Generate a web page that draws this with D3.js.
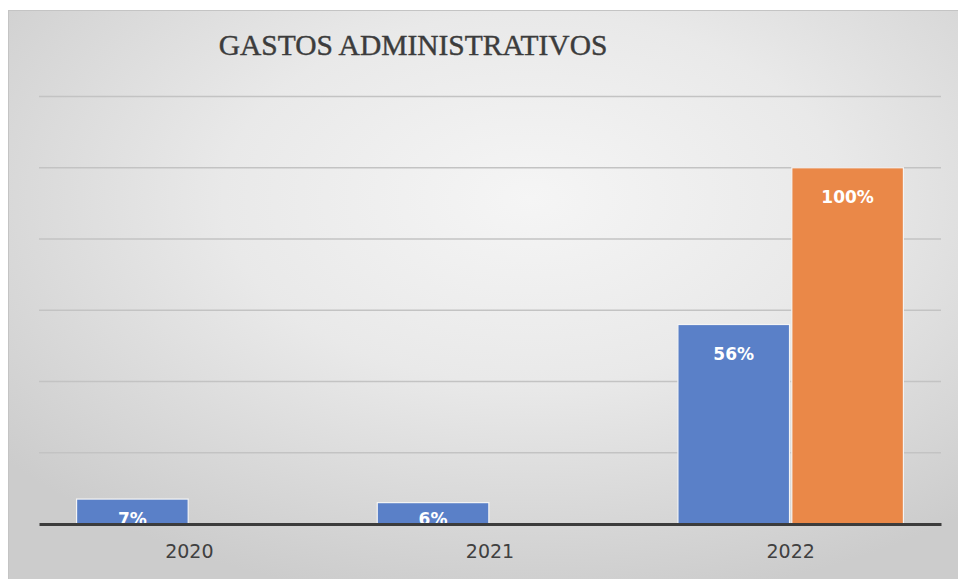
<!DOCTYPE html>
<html>
<head>
<meta charset="utf-8">
<script src="https://cdn.jsdelivr.net/npm/d3@7"></script>
<style>
  html, body { margin: 0; padding: 0; background: #ffffff; }
  svg { display: block; }
</style>
</head>
<body>
<svg id="chart" width="958" height="579"></svg>
<script>
const title = "GASTOS ADMINISTRATIVOS";
const categories = ["2020", "2021", "2022"];
const seriesNames = ["s1", "s2"];
const series1 = [7, 6, 56];
const series2 = [0, 0, 100];
const series1Labels = ["7%", "6%", "56%"];
const series2Labels = ["", "", "100%"];
const yTicks = [0, 20, 40, 60, 80, 100, 120];

const svg = d3.select("#chart");
const W = 958, H = 579;

const defs = svg.append("defs");
const grad = defs.append("radialGradient")
  .attr("id", "bg")
  .attr("cx", "0.55").attr("cy", "0.33").attr("r", "0.72");
grad.append("stop").attr("offset", "0").attr("stop-color", "#f5f5f5");
grad.append("stop").attr("offset", "0.45").attr("stop-color", "#e9e9e9");
grad.append("stop").attr("offset", "1").attr("stop-color", "#cccccc");

svg.append("rect")
  .attr("x", 8.5).attr("y", 10.5).attr("width", W - 8).attr("height", H - 10)
  .attr("fill", "url(#bg)")
  .attr("stroke", "#c4c4c4").attr("stroke-width", 1);

const left = 39, right = 941, y0 = 524, yTop = 96.5;

const x = d3.scaleBand().domain(categories).range([left, right]).padding(0);
const xi = d3.scaleBand().domain(seriesNames).range([0, x.bandwidth()])
  .paddingInner(0.02).paddingOuter(0.33);
const y = d3.scaleLinear().domain([0, 120]).range([y0, yTop]);

// gridlines
svg.append("g").selectAll("line")
  .data(yTicks.filter(t => t > 0))
  .join("line")
  .attr("x1", left).attr("x2", right)
  .attr("y1", d => y(d)).attr("y2", d => y(d))
  .attr("stroke", "#c3c3c3").attr("stroke-width", 1.5);

const rows = categories.map((c, i) => ({
  cat: c,
  bars: [
    { key: "s1", v: series1[i], label: series1Labels[i], color: "#5a80c8" },
    { key: "s2", v: series2[i], label: series2Labels[i], color: "#ea8848" }
  ]
}));

const groups = svg.append("g").selectAll("g")
  .data(rows).join("g")
  .attr("transform", d => `translate(${x(d.cat)},0)`);

groups.selectAll("rect")
  .data(d => d.bars.filter(b => b.v > 0))
  .join("rect")
  .attr("x", d => xi(d.key))
  .attr("width", xi.bandwidth())
  .attr("y", d => y(d.v))
  .attr("height", d => y0 - y(d.v))
  .attr("fill", d => d.color)
  .attr("stroke", "#f4f4f4").attr("stroke-width", 1.2);

// axis line
const xAxis = d3.axisBottom(x).tickSize(0).tickPadding(21);
const ax = svg.append("g").attr("transform", `translate(0,${y0})`).call(xAxis);
ax.select(".domain").attr("stroke", "#3c3c3c").attr("stroke-width", 3);
ax.selectAll("text")
  .attr("font-family", "'DejaVu Sans', sans-serif")
  .attr("font-size", 19)
  .attr("fill", "#404040");

// data labels
groups.selectAll("text.lbl")
  .data(d => d.bars.filter(b => b.v > 0))
  .join("text")
  .attr("class", "lbl")
  .attr("x", d => xi(d.key) + xi.bandwidth() / 2)
  .attr("y", d => Math.min(y(d.v) + 35, y0 + 1))
  .attr("text-anchor", "middle")
  .attr("font-family", "'DejaVu Sans', sans-serif")
  .attr("font-weight", "bold")
  .attr("font-size", 17)
  .attr("fill", "#ffffff")
  .text(d => d.label);

// title
svg.append("text")
  .attr("x", 413).attr("y", 55)
  .attr("text-anchor", "middle")
  .attr("font-family", "'Liberation Serif', 'Times New Roman', serif")
  .attr("font-size", 29.5)
  .attr("stroke", "#3c3c3c").attr("stroke-width", 0.4)
  .attr("fill", "#3c3c3c")
  .text(title);
</script>
</body>
</html>
